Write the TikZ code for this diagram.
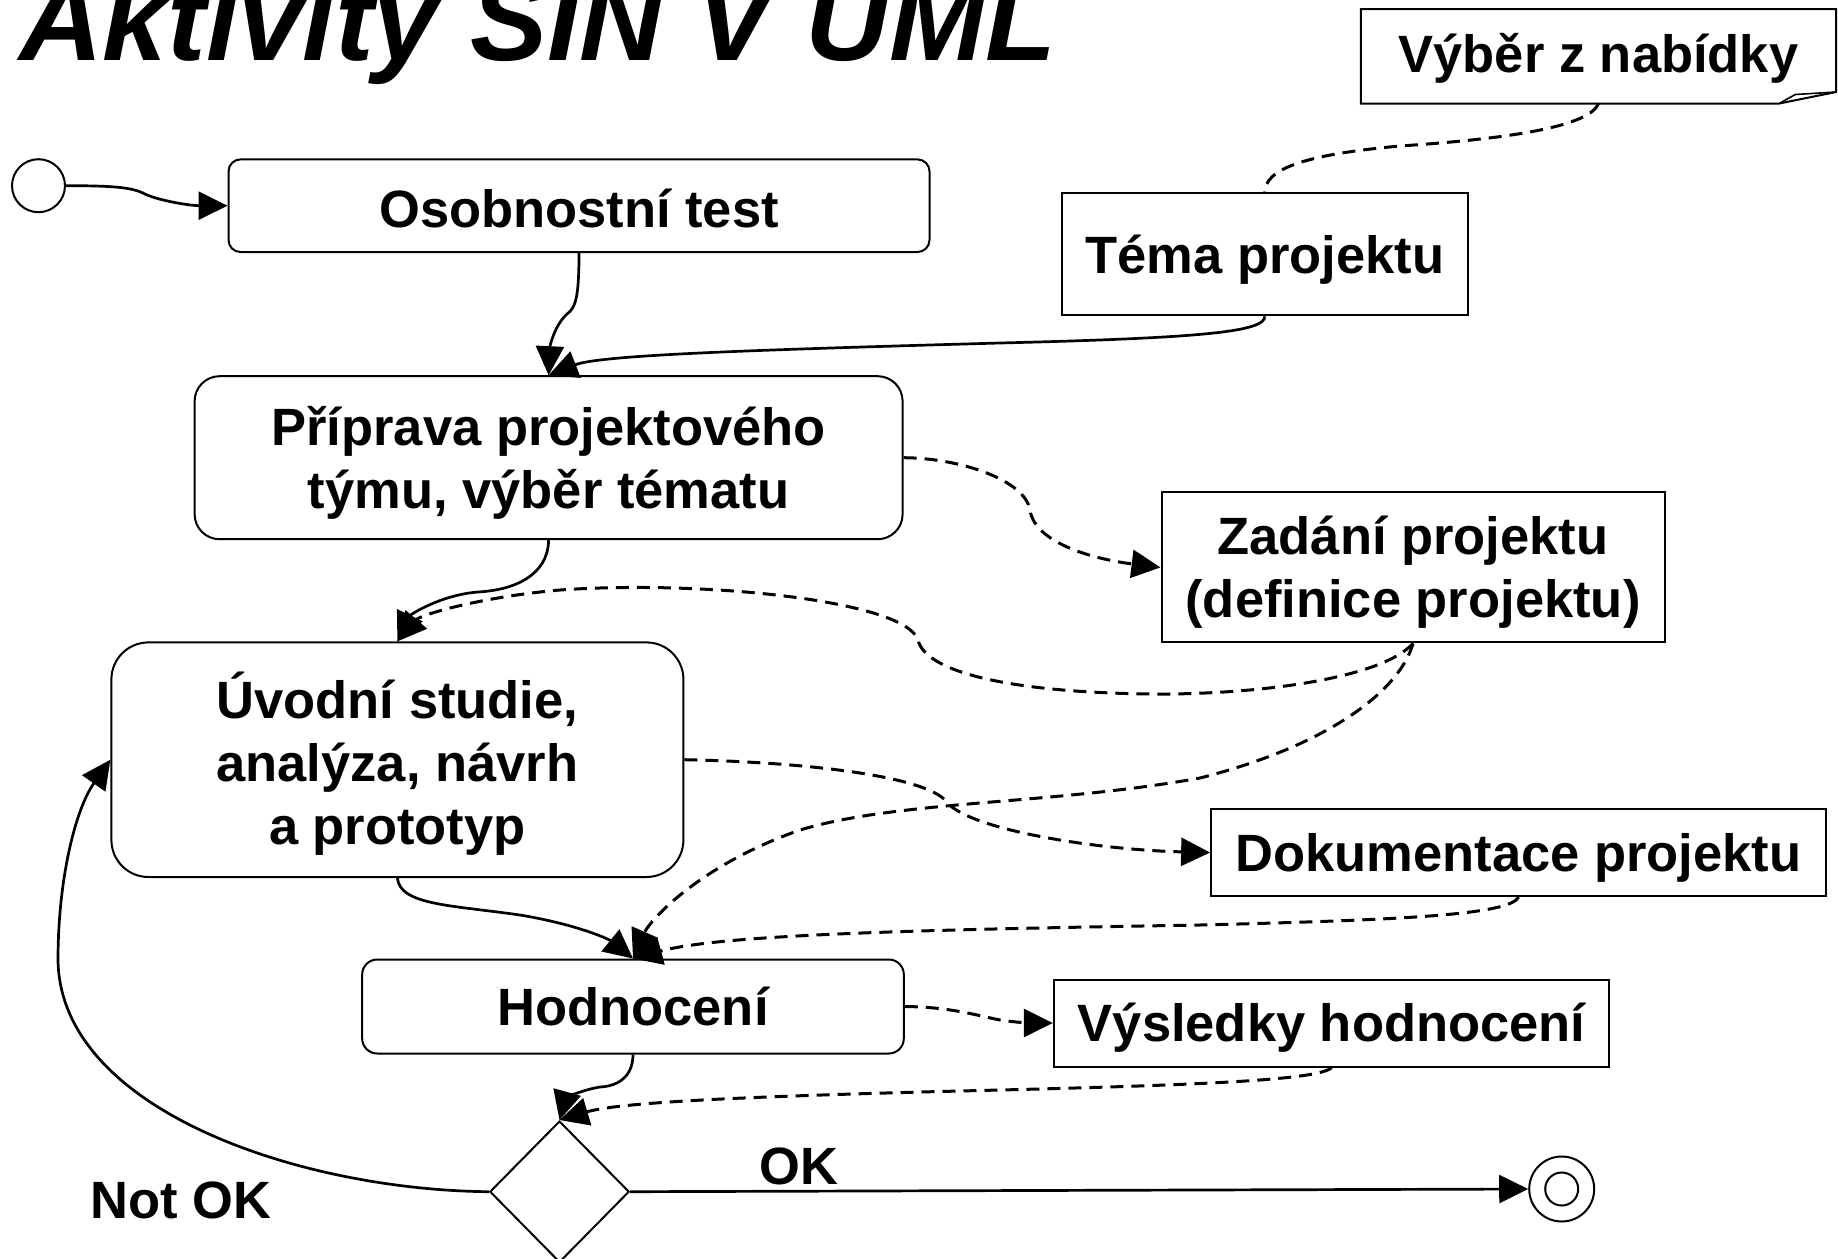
\documentclass[tikz,border=0pt]{standalone}
\usepackage{fontspec}
\setmainfont{Liberation Sans}
\usetikzlibrary{arrows.meta,shapes.geometric}

% invisible strut that sets the height of a line of node text
\newcommand\linelift[1]{\rule{0pt}{#1}}

\begin{document}
\begin{tikzpicture}[x=1pt,y=-1pt,
  every node/.style={font=\fontsize{52.5}{63}\selectfont\bfseries, align=center, inner sep=0pt},
  act/.style={draw, line width=2pt, rectangle, rounded corners=#1},
  obj/.style={draw, line width=2pt, rectangle},
  flow/.style={line width=2.7pt, -{Triangle[length=29pt,width=28pt]}},
  dep/.style={flow, line width=3pt, dash pattern=on 13pt off 8pt},
  link/.style={line width=3pt, dash pattern=on 13pt off 8pt},
]
% page frame
\fill[white] (0,0) rectangle (1838,1258);
\useasboundingbox (0,0) rectangle (1838,1258);

% title
\node[font=\fontsize{116}{116}\selectfont\bfseries\itshape, anchor=base west] (title) at (19,60) {Aktivity SIN V UML};

% note with folded corner
\node[rectangle, minimum width=475pt, minimum height=94pt] (vyber) at (1598.5,56.3) {\linelift{43pt}Výběr z nabídky};
\draw[line width=2pt] (vyber.north west) -- (vyber.north east) -- ([yshift=11.5pt]vyber.south east)
  -- ([xshift=-57pt]vyber.south east) -- (vyber.south west) -- cycle;
\draw[line width=1.6pt] ([xshift=-57pt]vyber.south east) -- ([xshift=-41pt,yshift=9pt]vyber.south east)
  -- ([yshift=11.5pt]vyber.south east);

% activities and objects
\node[circle, draw, line width=2pt, minimum size=53pt] (start) at (38.5,185.7) {};
\node[act=12pt, minimum width=701pt, minimum height=92.6pt] (osob) at (579,205.7) {\linelift{43.5pt}Osobnostní test};
\node[obj, minimum width=405.6pt, minimum height=121.9pt] (tema) at (1264.8,254.4) {\linelift{49pt}Téma projektu};
\node[act=25pt, minimum width=708pt, minimum height=163pt] (prip) at (548.6,457.7) {\linelift{49pt}Příprava projektového\\týmu, výběr tématu};
\node[obj, minimum width=503pt, minimum height=150pt] (zad) at (1413,567.4) {\linelift{49pt}Zadání projektu\\(definice projektu)};
\node[act=37pt, minimum width=572pt, minimum height=234.6pt] (uvod) at (397.4,759.7) {\linelift{54pt}Úvodní studie,\\analýza, návrh\\a prototyp};
\node[obj, minimum width=615pt, minimum height=87pt] (dok) at (1518.6,852.5) {\linelift{48pt}Dokumentace projektu};
\node[act=15pt, minimum width=541.6pt, minimum height=94pt] (hod) at (633,1006.5) {Hodnocení};
\node[obj, minimum width=555.6pt, minimum height=87pt] (vys) at (1331.6,1023) {\linelift{48.3pt}Výsledky hodnocení};
\node[diamond, draw, line width=2pt, minimum width=139.4pt, minimum height=141.4pt] (dia) at (559.5,1191.7) {};
\node[circle, draw, line width=2pt, minimum size=65pt,
  path picture={\draw[line width=2pt] (path picture bounding box.center) circle[radius=16.5pt];}] (end) at (1561.7,1189) {};

% guard labels
\node[anchor=base west] (ok) at (759.6,1184) {OK};
\node[anchor=base west] (notok) at (90.5,1218.5) {Not OK};

% control flow
\draw[flow] (start.east) .. controls (110,185.7) and (130,187) .. (143,193)
  .. controls (155,200) and (190,205.7) .. (osob.west);
\draw[flow] (osob.south) .. controls (579,300) and (575,308) .. (567,314)
  .. controls (555,325) and (550,345) .. (prip.north);
\draw[flow] (tema.south) .. controls (1265,332) and (1200,338) .. (1000,343)
  .. controls (750,350) and (600,355) .. (prip.north);
\draw[flow] (prip.south) .. controls (548,575) and (515,590) .. (478,592)
  .. controls (440,595) and (410,615) .. (uvod.north);
\draw[flow] (uvod.south) .. controls (400,905) and (450,905) .. (520,915)
  .. controls (580,925) and (610,940) .. (hod.north);
\draw[flow] (hod.south) .. controls (633,1075) and (620,1086) .. (600,1087)
  .. controls (580,1090) and (565,1100) .. (dia.north);
\draw[flow] (dia.west) .. controls (300,1190) and (60,1110) .. (58,960)
  .. controls (58,880) and (75,810) .. (uvod.west);
\draw[flow] (dia.east) -- (end.west);

% object flow
\draw[link] (vyber.south) .. controls (1590,125) and (1520,138) .. (1400,146)
  .. controls (1300,155) and (1265,170) .. (tema.north);
\draw[dep] (prip.east) .. controls (960,458) and (1025,480) .. (1030,510)
  .. controls (1035,545) and (1100,560) .. (zad.west);
\draw[dep] (zad.south) .. controls (1380,680) and (1250,695) .. (1150,694)
  .. controls (1000,692) and (925,670) .. (918,640)
  .. controls (905,600) and (700,580) .. (560,590)
  .. controls (480,597) and (420,615) .. (uvod.north);
\draw[dep] (zad.south) .. controls (1400,690) and (1330,745) .. (1200,778)
  .. controls (1050,805) and (900,800) .. (800,830)
  .. controls (700,865) and (650,920) .. (hod.north);
\draw[dep] (uvod.east) .. controls (800,762) and (920,775) .. (945,800)
  .. controls (965,830) and (1100,850) .. (dok.west);
\draw[dep] (dok.south) .. controls (1510,915) and (1400,920) .. (1200,925)
  .. controls (900,930) and (720,935) .. (hod.north);
\draw[dep] (hod.east) .. controls (950,1007) and (975,1015) .. (1000,1020)
  .. controls (1020,1023) and (1035,1023) .. (vys.west);
\draw[dep] (vys.south) .. controls (1320,1080) and (1200,1085) .. (1000,1090)
  .. controls (750,1096) and (620,1102) .. (dia.north);
\end{tikzpicture}
\end{document}
